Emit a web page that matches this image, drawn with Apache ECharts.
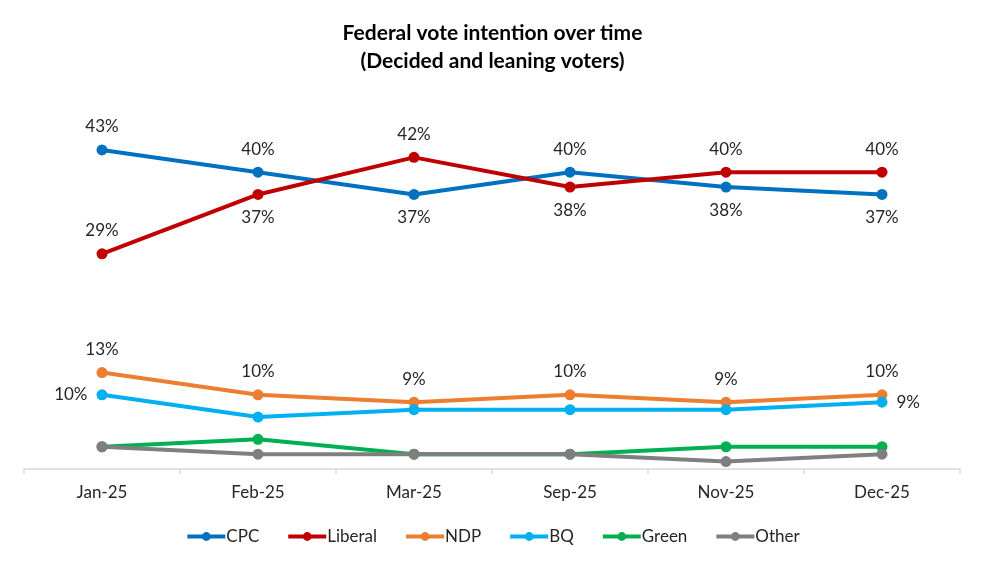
<!DOCTYPE html>
<html><head><meta charset="utf-8">
<script src="https://cdn.jsdelivr.net/npm/echarts@6/dist/echarts.min.js"></script>
<style>html,body{margin:0;padding:0;background:#fff}#c{width:985px;height:566px}</style>
</head><body><div id="c"></div>
<script>
const categories = ['Jan-25','Feb-25','Mar-25','Sep-25','Nov-25','Dec-25'];
const cpc     = [43, 40, 37, 40, 38, 37];
const liberal = [29, 37, 42, 38, 40, 40];
const ndp     = [13, 10, 9, 10, 9, 10];
const bq      = [10, 7, 8, 8, 8, 9];
const green   = [3, 4, 2, 2, 3, 3];
const other   = [3, 2, 2, 2, 1, 2];

const FONT = 'Lato, "Open Sans", sans-serif';
const TXT = '#262626';
const chart = echarts.init(document.getElementById('c'));

function labeled(vals, posFn, showFn) {
  return vals.map((v, i) => {
    const show = showFn ? showFn(i) : true;
    return {value: v, label: {show: show, position: posFn(i)}};
  });
}
const cpcPos = i => (cpc[i] >= liberal[i] ? 'top' : 'bottom');
const libPos = i => (i === 0 || liberal[i] > cpc[i] ? 'top' : 'bottom');

function mk(name, color, data, withLabel) {
  return {
    name, type: 'line', data,
    symbol: 'circle', symbolSize: 11,
    lineStyle: {width: 4, color},
    itemStyle: {color},
    label: {show: !!withLabel, formatter: '{c}%', fontSize: 17, color: TXT, fontFamily: FONT, distance: 9},
    z: 2
  };
}

chart.setOption({
  animation: false,
  title: {
    text: 'Federal vote intention over time\n(Decided and leaning voters)',
    left: 'center', top: 14,
    textStyle: {fontSize: 21, fontWeight: 'bold', color: '#000', fontFamily: FONT, lineHeight: 28}
  },
  legend: {
    bottom: 16, left: 'center', itemWidth: 38, itemHeight: 11, itemGap: 27,
    lineStyle: {width: 4},
    textStyle: {fontSize: 17, color: TXT, fontFamily: FONT, padding: [0,0,0,-4]},
    data: ['CPC','Liberal','NDP','BQ','Green','Other']
  },
  grid: {left: 24, right: 25, top: 98, bottom: 97, containLabel: false},
  xAxis: {
    type: 'category', data: categories, boundaryGap: true,
    axisLine: {lineStyle: {color: '#D9D9D9', width: 1.5}},
    axisTick: {show: true, length: 5, lineStyle: {color: '#D9D9D9', width: 1.5}},
    axisLabel: {fontSize: 17, color: TXT, fontFamily: FONT, margin: 15}
  },
  yAxis: {type: 'value', min: 0, max: 50, show: false, splitLine: {show: false}},
  series: [
    mk('CPC', '#0070C0', labeled(cpc, cpcPos), true),
    mk('Liberal', '#C00000', labeled(liberal, libPos), true),
    mk('NDP', '#ED7D31', labeled(ndp, () => 'top'), true),
    mk('BQ', '#00B0F0', labeled(bq, i => (i === 0 ? 'left' : 'right'), i => (i === 0 || i === bq.length - 1)), true),
    mk('Green', '#00B050', green, false),
    mk('Other', '#7F7F7F', other, false)
  ]
});
</script></body></html>
